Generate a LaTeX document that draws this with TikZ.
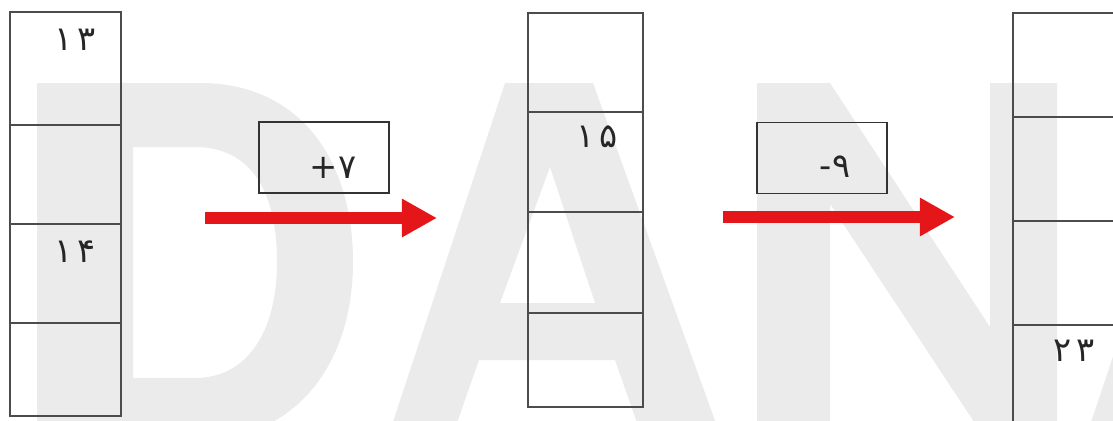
\documentclass[tikz,border=0pt]{standalone}
\usepackage{fontspec}
\newfontfamily\digitfont{DejaVu Sans}
\usetikzlibrary{arrows.meta}
\definecolor{arrowred}{RGB}{228,22,26}
\definecolor{markgray}{RGB}{235,235,235}

\begin{document}
\begin{tikzpicture}[x=0.025cm, y=-0.025cm,
		cellline/.style={line width=1.3pt, color=black!70},
		opbox/.style={draw=black!80, line width=1.3pt, minimum width=3.25cm, minimum height=1.775cm, inner sep=0pt},
		numtext/.style={inner sep=0pt, font=\digitfont\fontsize{24}{28}\selectfont, text=black!85},
		redarrow/.style={line width=0.3cm, color=arrowred, -{Triangle[length=0.875cm, width=0.9cm]}}]
		%%%%% START %%%%%
		
		\clip (0, 0) rectangle (1113, 421);
		
		% watermark letters
		\fill[markgray, even odd rule] (37, 83) -- (200, 83) .. controls (300, 83) and (353, 160) .. (353, 262) .. controls (353, 370) and (290, 440) .. (200, 440) -- (37, 440) -- cycle
			(133, 147) -- (195, 147) .. controls (250, 147) and (277, 190) .. (277, 262) .. controls (277, 335) and (245, 378) .. (195, 378) -- (133, 378) -- cycle;
		\fill[markgray, even odd rule] (387, 440) -- (505, 83) -- (593, 83) -- (722, 440) -- (643, 440) -- (615, 360) -- (479, 360) -- (451, 440) -- cycle
			(550, 167) -- (595, 303) -- (500, 303) -- cycle;
		\fill[markgray] (757, 83) -- (830, 83) -- (990, 327) -- (990, 83) -- (1057, 83) -- (1057, 440) -- (986, 440) -- (830, 204) -- (830, 440) -- (757, 440) -- cycle;
		\fill[markgray] (1085, 440) -- (1205, 83) -- (1300, 83) -- (1300, 440) -- cycle;
		
		% first column
		\draw[cellline] (10, 12) rectangle (121, 416);
		\foreach \y in {125, 224, 323}
			\draw[cellline] (10, \y) -- (121, \y);
		\node[numtext] (n13) at (75, 40) {۱\hspace{3pt}۳};
		\node[numtext] (n14) at (75, 252) {۱\hspace{3pt}۴};
		
		% second column
		\draw[cellline] (528, 13) rectangle (643, 407);
		\foreach \y in {112, 212, 313}
			\draw[cellline] (528, \y) -- (643, \y);
		\node[numtext] (n15) at (597, 137) {۱\hspace{3pt}۵};
		
		% third column
		\draw[cellline] (1013, 13) rectangle (1140, 440);
		\foreach \y in {117, 221, 325}
			\draw[cellline] (1013, \y) -- (1140, \y);
		\node[numtext] (n23) at (1074, 351) {۲\hspace{3pt}۳};
		
		% operations
		\node[opbox] (opadd) at (324, 157.5) {};
		\node[numtext] (addtext) at (333, 168) {+۷};
		\node[opbox] (opsub) at (822, 158) {};
		\node[numtext] (subtext) at (835, 167) {-۹};
		
		\coordinate (arrAfrom) at (205, 218);
		\coordinate (arrAto) at (437, 218);
		\coordinate (arrBfrom) at (723, 217);
		\coordinate (arrBto) at (955, 217);
		\draw[redarrow] (arrAfrom) -- (arrAto);
		\draw[redarrow] (arrBfrom) -- (arrBto);
		
		%%%%% END %%%%%
\end{tikzpicture}
\end{document}
